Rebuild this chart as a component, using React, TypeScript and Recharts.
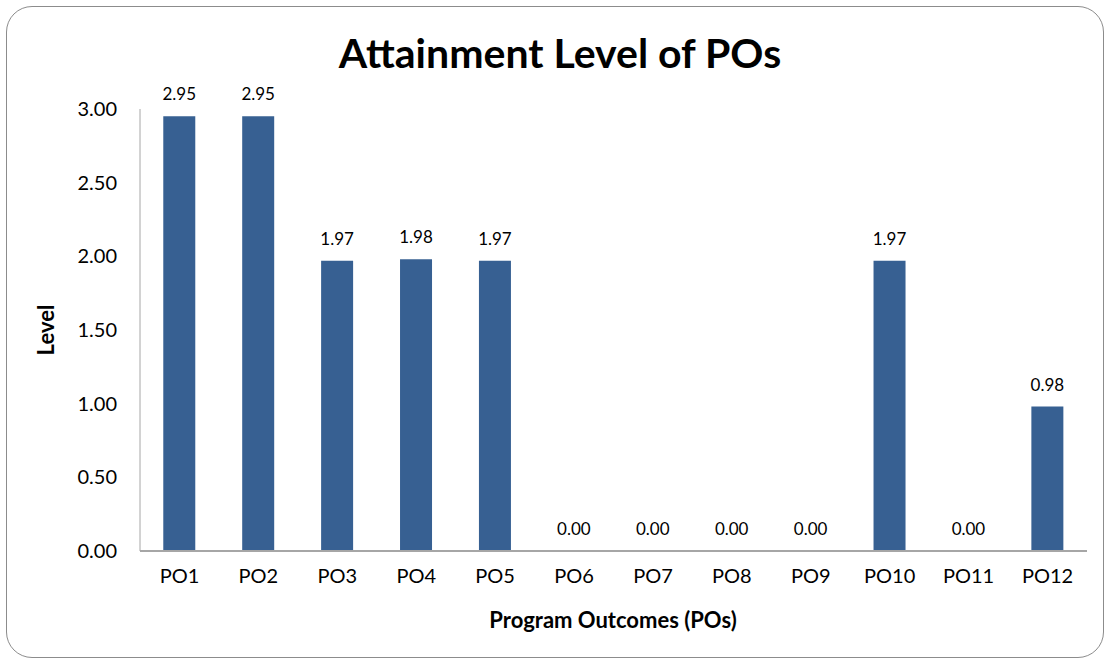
import React from 'react';
import { BarChart, Bar, XAxis, YAxis, LabelList } from 'recharts';

const CATEGORIES = ['PO1', 'PO2', 'PO3', 'PO4', 'PO5', 'PO6', 'PO7', 'PO8', 'PO9', 'PO10', 'PO11', 'PO12'];
const LEVELS = [2.95, 2.95, 1.97, 1.98, 1.97, 0, 0, 0, 0, 1.97, 0, 0.98];
const Y_TICKS = [0, 0.5, 1, 1.5, 2, 2.5, 3];

const FONT = 'Lato, "Open Sans", sans-serif';
const BAR_COLOR = '#376092';

const data = CATEGORIES.map((name, i) => ({ name, level: LEVELS[i] }));

export default function App() {
  return (
    <div style={{ position: 'absolute', left: 0, top: 0, width: 1108, height: 663, background: '#fff', fontFamily: FONT }}>
      <div
        style={{
          position: 'absolute',
          left: 6,
          top: 6,
          width: 1096,
          height: 650,
          border: '1px solid #8c8c8c',
          borderRadius: 26,
        }}
      />
      <div
        style={{
          position: 'absolute',
          left: 560,
          top: 28,
          transform: 'translateX(-50%)',
          fontSize: 41,
          fontWeight: 700,
          color: '#000',
          whiteSpace: 'nowrap',
        }}
      >
        Attainment Level of POs
      </div>
      <div
        style={{
          position: 'absolute',
          left: 613,
          top: 606,
          transform: 'translateX(-50%)',
          fontSize: 22,
          fontWeight: 700,
          whiteSpace: 'nowrap',
        }}
      >
        Program Outcomes (POs)
      </div>
      <div
        style={{
          position: 'absolute',
          left: 45,
          top: 330,
          transform: 'translate(-50%, -50%) rotate(-90deg)',
          fontSize: 22,
          fontWeight: 700,
        }}
      >
        Level
      </div>
      <div style={{ position: 'absolute', left: 0, top: 0 }}>
        <BarChart width={1108} height={663} data={data} margin={{ top: 109, right: 21, bottom: 72, left: 60 }} barCategoryGap="29.5%">
          <XAxis
            dataKey="name"
            axisLine={{ stroke: '#a6a6a6', strokeWidth: 2 }}
            tickLine={false}
            tickMargin={12}
            height={40}
            tick={{ fontSize: 20, fill: '#000', fontFamily: FONT }}
            interval={0}
          />
          <YAxis
            width={80}
            domain={[0, 3]}
            ticks={Y_TICKS}
            axisLine={{ stroke: '#a6a6a6', strokeWidth: 1 }}
            tickLine={false}
            tickMargin={17}
            tick={{ fontSize: 20, fill: '#000', fontFamily: FONT }}
            tickFormatter={(v: number) => v.toFixed(2)}
          />
          <Bar dataKey="level" fill={BAR_COLOR} minPointSize={0.01} isAnimationActive={false}>
            <LabelList
              dataKey="level"
              position="top"
              offset={16}
              formatter={(v: number) => Number(v).toFixed(2)}
              style={{ fontSize: 17, fill: '#000', fontFamily: FONT }}
            />
          </Bar>
        </BarChart>
      </div>
    </div>
  );
}
